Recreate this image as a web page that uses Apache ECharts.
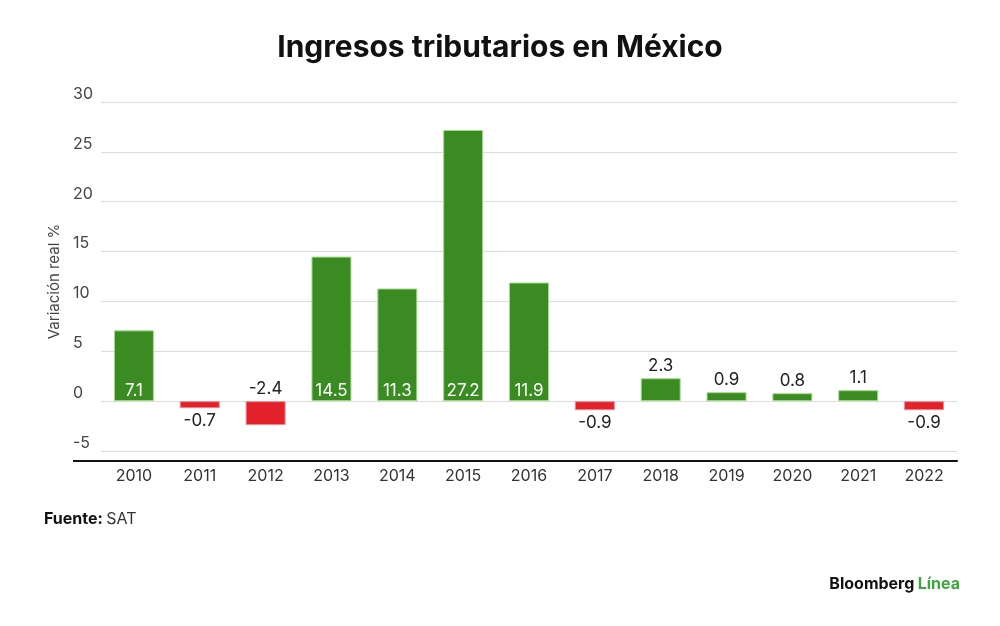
<!DOCTYPE html>
<html>
<head>
<meta charset="utf-8">
<script src="https://cdn.jsdelivr.net/npm/echarts@6/dist/echarts.min.js"></script>
<style>
  html, body { margin: 0; padding: 0; background: #fff; }
  #chart { width: 1000px; height: 626px; }
</style>
</head>
<body>
<div id="chart"></div>
<script>
// Tax revenue in Mexico, real % change per year
var years = ['2010', '2011', '2012', '2013', '2014', '2015', '2016', '2017', '2018', '2019', '2020', '2021', '2022'];
var values = [7.1, -0.7, -2.4, 14.5, 11.3, 27.2, 11.9, -0.9, 2.3, 0.9, 0.8, 1.1, -0.9];

var yMin = -6;
var yMax = 30;

var GREEN = '#3a8c22';
var RED = '#e3212b';
var FONT = 'Inter, "Liberation Sans", sans-serif';

var chart = echarts.init(document.getElementById('chart'));

var barData = values.map(function(v) {
  var label;
  if (v > 5) {
    label = { position: 'insideBottom', color: '#fff', distance: 2 };
  } else if (v >= 0 || v < -1) {
    label = { position: 'top', color: '#222', distance: 4 };
  } else {
    label = { position: 'bottom', color: '#222', distance: 4 };
  }
  return {
    value: v,
    itemStyle: {
      color: v >= 0 ? GREEN : RED,
      borderColor: v >= 0 ? '#a6dc8e' : '#f08a8f',
      borderWidth: 1
    },
    label: label
  };
});

var option = {
  animation: false,
  title: {
    text: 'Ingresos tributarios en México',
    left: 'center',
    top: 28,
    textStyle: {
      fontFamily: FONT,
      fontWeight: 'bold',
      fontSize: 30,
      color: '#111'
    }
  },
  grid: { left: 101, right: 43, top: 102, bottom: 165 },
  xAxis: {
    type: 'category',
    data: years,
    axisLine: { show: true, onZero: false, lineStyle: { color: '#111', width: 2 } },
    axisTick: { show: false },
    axisLabel: { color: '#333', fontSize: 16, fontFamily: FONT, margin: 7 }
  },
  yAxis: {
    type: 'value',
    min: yMin,
    max: yMax,
    interval: 1,
    name: 'Variación real %',
    nameLocation: 'middle',
    nameGap: 38,
    nameTextStyle: { color: '#444', fontSize: 15, fontFamily: FONT },
    axisLine: { show: false },
    axisTick: { show: false },
    axisLabel: {
      color: '#444',
      fontSize: 16,
      fontFamily: FONT,
      align: 'left',
      margin: 28,
      verticalAlign: 'bottom',
      formatter: function(v) { return v % 5 === 0 ? String(v) : ''; }
    },
    splitLine: {
      show: true,
      lineStyle: { color: ['transparent', '#dcdcdc', 'transparent', 'transparent', 'transparent'], width: 1 }
    }
  },
  series: [{
    type: 'bar',
    data: barData,
    barWidth: 40,
    label: {
      show: true,
      fontSize: 17,
      fontFamily: FONT,
      formatter: function(p) { return String(p.value); }
    }
  }],
  graphic: [
    {
      type: 'text',
      left: 44,
      top: 511,
      style: {
        text: '{b|Fuente:} {r|SAT}',
        rich: {
          b: { fontFamily: FONT, fontWeight: 'bold', fontSize: 16, fill: '#111' },
          r: { fontFamily: FONT, fontSize: 16, fill: '#333' }
        }
      }
    },
    {
      type: 'text',
      right: 40,
      top: 576,
      style: {
        text: '{b|Bloomberg} {g|Línea}',
        rich: {
          b: { fontFamily: FONT, fontWeight: 'bold', fontSize: 16, fill: '#111' },
          g: { fontFamily: FONT, fontWeight: 'bold', fontSize: 16, fill: '#3aa83a' }
        }
      }
    }
  ]
};

chart.setOption(option);

// extend the black base line to the left edge of the tick labels
var baseY = chart.convertToPixel({ yAxisIndex: 0 }, yMin);
chart.setOption({
  graphic: option.graphic.concat([{
    type: 'line',
    shape: { x1: 73, y1: baseY, x2: 102, y2: baseY },
    style: { stroke: '#111', lineWidth: 2 }
  }])
});
</script>
</body>
</html>
